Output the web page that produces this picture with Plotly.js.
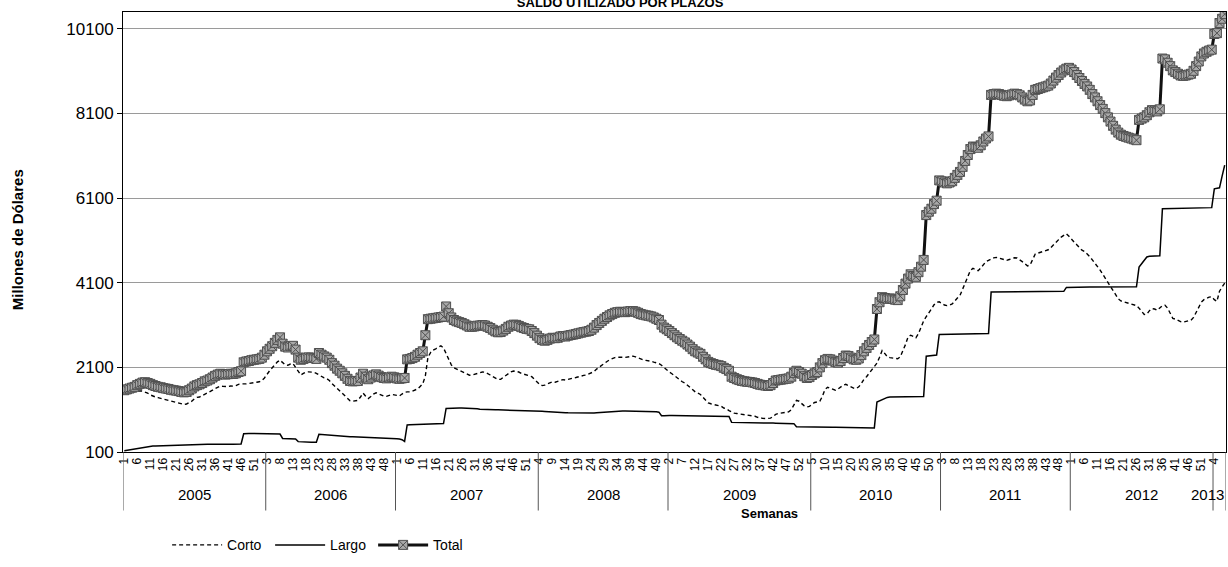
<!DOCTYPE html>
<html><head><meta charset="utf-8">
<script src="https://cdn.plot.ly/plotly-3.0.1.min.js"></script>
<style>html,body{margin:0;padding:0;background:#fff}#chart{width:1228px;height:567px}</style>
</head><body><div id="chart"></div>
<script>
const years = [2005, 2006, 2007, 2008, 2009, 2010, 2011, 2012, 2013];
const weeksPerYear = [53, 52, 52, 52, 52, 52, 52, 52, 8];
const labelStep = 5;

const corto = [
1490,1500,1510,1520,1530,1540,1545,1540,1520,1490,1450,1420,1400,1385,1370,1350,1330,1320,1300,1290,1280,1265,1245,1225,1235,1260,1300,1360,1390,1400,1430,1470,1490,1515,1560,1600,1640,1660,1650,1640,1645,1660,1655,1670,1700,1710,1705,1710,1720,1735,1745,1750,1760,
1790,1850,1950,2020,2090,2160,2230,2270,2220,2160,2150,2180,2190,2100,1980,1920,1960,1990,1995,1990,1985,1960,1920,1880,1850,1835,1790,1720,1660,1600,1560,1500,1430,1360,1310,1300,1310,1320,1400,1495,1420,1365,1410,1470,1500,1470,1440,1420,1415,1440,1460,1450,
1430,1425,1470,1510,1520,1520,1540,1565,1590,1650,1710,1900,2340,2450,2510,2540,2580,2610,2560,2420,2300,2160,2090,2060,2040,2010,1970,1940,1915,1920,1940,1960,1975,1990,1985,1960,1920,1880,1840,1815,1820,1860,1910,1960,1995,2015,2010,1990,1960,1940,1920,1910,
1880,1820,1760,1700,1670,1680,1710,1740,1760,1750,1770,1800,1810,1800,1820,1840,1850,1860,1880,1900,1910,1920,1945,1960,2000,2060,2110,2160,2200,2240,2280,2310,2330,2340,2345,2340,2335,2345,2360,2365,2350,2320,2290,2275,2265,2260,2245,2225,2205,2190,2150,2090,
2040,1990,1950,1900,1850,1800,1760,1730,1680,1630,1560,1520,1490,1460,1390,1320,1260,1240,1225,1210,1200,1180,1140,1120,1080,1040,1020,1010,1000,990,975,970,968,960,945,920,900,895,890,890,900,940,990,1010,1020,1030,1040,1050,1100,1200,1320,1300,
1250,1190,1165,1180,1230,1270,1285,1300,1420,1580,1630,1610,1580,1560,1590,1640,1680,1700,1670,1640,1610,1600,1640,1720,1820,1880,1960,2050,2120,2200,2340,2500,2430,2350,2330,2320,2310,2305,2350,2480,2640,2820,2860,2830,2800,2900,3050,3200,3300,3380,3480,3580,
3640,3650,3610,3575,3560,3570,3600,3680,3740,3800,3950,4090,4250,4390,4440,4420,4385,4450,4540,4600,4630,4670,4690,4700,4680,4660,4640,4630,4650,4670,4690,4685,4650,4600,4550,4500,4520,4650,4780,4800,4820,4840,4860,4880,4930,5000,5065,5120,5180,5230,5260,5200,
5120,5060,5000,4940,4870,4840,4790,4720,4640,4570,4480,4400,4300,4210,4110,4000,3900,3800,3720,3670,3650,3645,3620,3600,3580,3560,3500,3420,3350,3360,3440,3490,3480,3450,3510,3560,3570,3500,3380,3260,3240,3210,3180,3170,3180,3200,3215,3280,3400,3520,3640,3700,
3730,3760,3770,3700,3660,3900,4000,4090
];

const largo = [
130,140,150,160,175,190,200,215,225,230,235,240,242,245,248,250,252,255,258,260,262,265,267,270,272,273,275,276,278,280,280,281,282,282,280,280,281,282,282,283,283,284,284,285,285,290,530,540,540,538,537,536,535,
534,533,532,532,530,530,528,525,420,418,418,417,415,410,345,340,338,336,335,333,332,330,520,515,505,495,488,482,476,471,468,466,465,464,463,462,460,458,456,455,452,448,440,435,432,430,428,425,422,420,418,415,
412,405,390,350,740,745,748,750,752,755,756,758,760,762,764,766,768,770,772,1130,1135,1138,1140,1140,1140,1138,1137,1136,1135,1130,1125,1120,1110,1105,1102,1100,1099,1098,1097,1096,1095,1094,1093,1092,1091,1090,1089,1088,1087,1086,1085,1084,
1083,1080,1076,1070,1065,1060,1055,1048,1040,1038,1036,1034,1032,1030,1027,1025,1022,1020,1017,1015,1012,1010,1008,1012,1020,1026,1032,1038,1044,1050,1056,1062,1066,1069,1070,1070,1070,1069,1069,1068,1068,1067,1067,1066,1066,1065,1064,1058,1050,1042,956,954,
963,963,963,962,962,961,961,960,960,959,958,957,956,955,954,953,952,951,950,949,947,945,943,941,940,800,798,797,796,795,794,793,792,791,790,789,788,787,786,785,784,783,782,781,780,778,776,774,772,770,695,693,
692,691,691,690,690,689,689,688,688,687,687,686,686,685,685,684,684,683,683,682,682,681,680,679,678,676,674,672,670,1280,1310,1340,1370,1390,1398,1400,1401,1402,1403,1404,1405,1406,1407,1408,1409,1410,1411,1412,2365,2375,2382,2388,
2392,2880,2882,2883,2884,2885,2886,2887,2888,2889,2890,2891,2892,2893,2894,2895,2896,2897,2898,2899,2900,3880,3881,3882,3883,3884,3885,3886,3887,3888,3888,3889,3889,3890,3890,3891,3891,3892,3892,3893,3893,3894,3894,3895,3895,3896,3896,3897,3897,3898,3990,3993,
3995,3995,3996,3996,3997,3997,3998,3998,3999,3999,4000,4000,4001,4001,4002,4002,4003,4003,4004,4004,4005,4005,4005,4005,4005,4005,4470,4560,4650,4710,4727,4730,4733,4736,4740,5850,5852,5854,5855,5856,5857,5858,5859,5860,5861,5862,5863,5864,5865,5866,5868,5870,
5872,5874,5876,6320,6330,6345,6620,6880
];

const total = [
1560,1580,1600,1620,1640,1680,1710,1740,1750,1730,1710,1680,1660,1640,1630,1610,1600,1590,1570,1560,1550,1540,1520,1510,1520,1560,1600,1650,1680,1700,1730,1770,1790,1820,1860,1900,1930,1950,1940,1930,1940,1950,1945,1960,1990,2010,2220,2240,2250,2270,2280,2290,2300,
2330,2400,2480,2540,2600,2680,2750,2810,2660,2590,2570,2600,2610,2520,2330,2280,2300,2330,2335,2330,2320,2300,2440,2400,2360,2330,2280,2200,2140,2070,2020,1960,1900,1830,1780,1770,1775,1780,1860,1950,1880,1820,1860,1910,1935,1905,1870,1850,1840,1860,1880,1865,
1840,1830,1840,1850,2290,2300,2320,2350,2400,2440,2480,2860,3240,3250,3260,3270,3280,3290,3300,3540,3380,3280,3220,3190,3170,3150,3120,3090,3060,3060,3070,3085,3090,3100,3090,3060,3030,2990,2950,2930,2935,2970,3010,3060,3090,3110,3105,3080,3050,3030,3010,3000,
2960,2910,2850,2790,2750,2730,2750,2780,2800,2790,2800,2830,2840,2830,2850,2865,2875,2890,2905,2920,2935,2945,2960,2990,3040,3100,3150,3200,3250,3290,3330,3360,3390,3405,3415,3410,3405,3420,3430,3430,3415,3390,3360,3345,3330,3320,3305,3280,3250,3220,3110,3040,
3000,2960,2910,2860,2810,2770,2730,2690,2640,2590,2530,2480,2450,2420,2350,2290,2230,2200,2180,2160,2150,2130,2090,2060,2020,1880,1850,1820,1800,1780,1770,1760,1755,1745,1730,1710,1690,1680,1670,1660,1680,1730,1790,1800,1810,1820,1830,1840,1880,1970,2020,1990,
1950,1890,1850,1870,1920,1960,1990,2100,2200,2270,2300,2290,2260,2230,2210,2250,2320,2380,2370,2330,2290,2280,2310,2390,2480,2560,2630,2700,2760,3480,3640,3760,3740,3720,3730,3720,3700,3690,3780,3930,4080,4200,4300,4260,4240,4350,4480,4640,5700,5780,5850,5960,
6040,6520,6500,6470,6450,6470,6500,6580,6650,6720,6840,6980,7120,7260,7320,7310,7290,7350,7440,7510,7560,8540,8560,8570,8560,8540,8520,8510,8530,8550,8570,8560,8530,8480,8430,8390,8410,8540,8660,8680,8700,8720,8740,8760,8810,8880,8950,9010,9070,9120,9160,9180,
9140,9080,9010,8940,8870,8800,8740,8660,8560,8480,8390,8300,8210,8110,8010,7910,7810,7720,7650,7600,7570,7550,7530,7510,7490,7470,7950,7980,8010,8060,8130,8180,8170,8150,8200,9400,9380,9300,9220,9120,9080,9040,9000,8990,9000,9020,9040,9110,9220,9330,9450,9520,
9560,9590,9610,9980,10000,10240,10340,10450
];

const yTicks = [100, 2100, 4100, 6100, 8100, 10100];

// category axis: one position per week
const yearOf = [], weekOf = [];
years.forEach((y, k) => { for (let w = 1; w <= weeksPerYear[k]; w++) { yearOf.push(y); weekOf.push(w); } });
const idx = weekOf.map((_, i) => i);
const tickvals = idx.filter(i => i % labelStep === 0);
const ticktext = tickvals.map(i => String(weekOf[i]));

// group dividers sit at the first labelled week of each year
const dividers = years.map(y => tickvals.find(i => yearOf[i] === y) - 0.5);
const lastEdge = idx.length - 0.5;
const groupEnds = dividers.slice(1).concat([lastEdge]);

const FONT = 'Arial, "Liberation Sans", sans-serif';
const divBottom = -0.133;

const shapes = dividers.concat([lastEdge]).map(x => ({
  type: 'line', xref: 'x', yref: 'paper', x0: x, x1: x, y0: 0, y1: divBottom,
  line: {color: '#555', width: 1}
}));

const annotations = years.map((y, k) => {
  const last = k === years.length - 1;
  return {
    xref: 'x', yref: 'paper', x: last ? lastEdge : (dividers[k] + groupEnds[k]) / 2, y: -0.096,
    text: String(y), showarrow: false, font: {family: FONT, size: 15, color: '#000'},
    xanchor: last ? 'right' : 'center', yanchor: 'middle'
  };
});
annotations.push({
  xref: 'paper', yref: 'paper', x: -0.095, y: 0.482, textangle: -90,
  text: '<b>Millones de Dólares</b>', showarrow: false,
  font: {family: FONT, size: 15, color: '#000'}, xanchor: 'center', yanchor: 'middle'
});
annotations.push({
  xref: 'paper', yref: 'paper', x: 0.586, y: -0.139,
  text: '<b>Semanas</b>', showarrow: false,
  font: {family: FONT, size: 13, color: '#000'}, xanchor: 'center', yanchor: 'middle'
});

const traces = [
  {x: idx, y: corto, name: 'Corto', type: 'scatter', mode: 'lines',
   line: {color: '#000', width: 1.4, dash: '4px,3px'}},
  {x: idx, y: largo, name: 'Largo', type: 'scatter', mode: 'lines',
   line: {color: '#000', width: 1.5}},
  {x: idx, y: total, name: 'Total', type: 'scatter', mode: 'lines+markers',
   line: {color: '#111', width: 3},
   marker: {symbol: 'square-x', size: 9, color: '#a8a8a8', line: {color: '#505050', width: 1}}}
];

const layout = {
  width: 1228, height: 567,
  margin: {l: 123, r: 2, t: 12, b: 115},
  paper_bgcolor: '#fff', plot_bgcolor: '#fff',
  font: {family: FONT, color: '#000'},
  showlegend: true, hovermode: false,
  title: {text: '<b>SALDO UTILIZADO POR PLAZOS</b>', font: {family: FONT, size: 13, color: '#000'},
          xref: 'container', x: 0.505, xanchor: 'center', yref: 'container', y: 0.995, yanchor: 'middle'},
  xaxis: {
    range: [-0.5, lastEdge], tickmode: 'array', tickvals: tickvals, ticktext: ticktext,
    tickangle: -90, tickfont: {family: FONT, size: 12, color: '#000'},
    showgrid: false, zeroline: false, showline: true, mirror: true, linecolor: '#000', linewidth: 1,
    ticks: ''
  },
  yaxis: {
    range: [100, 10500], tickmode: 'array', tickvals: yTicks, ticktext: yTicks.map(String),
    tickfont: {family: FONT, size: 17, color: '#000'},
    ticks: 'outside', ticklen: 5, tickcolor: '#000',
    showgrid: true, gridcolor: '#9a9a9a', gridwidth: 1,
    zeroline: false, showline: true, mirror: true, linecolor: '#000', linewidth: 1
  },
  legend: {orientation: 'h', x: 0.04, xanchor: 'left', y: -0.212, yanchor: 'middle',
           font: {family: FONT, size: 14, color: '#000'}, itemwidth: 50,
           entrywidth: 38, entrywidthmode: 'pixels', bgcolor: 'rgba(0,0,0,0)'},
  shapes: shapes,
  annotations: annotations
};

Plotly.newPlot('chart', traces, layout, {staticPlot: true, displayModeBar: false});
</script>
</body></html>
